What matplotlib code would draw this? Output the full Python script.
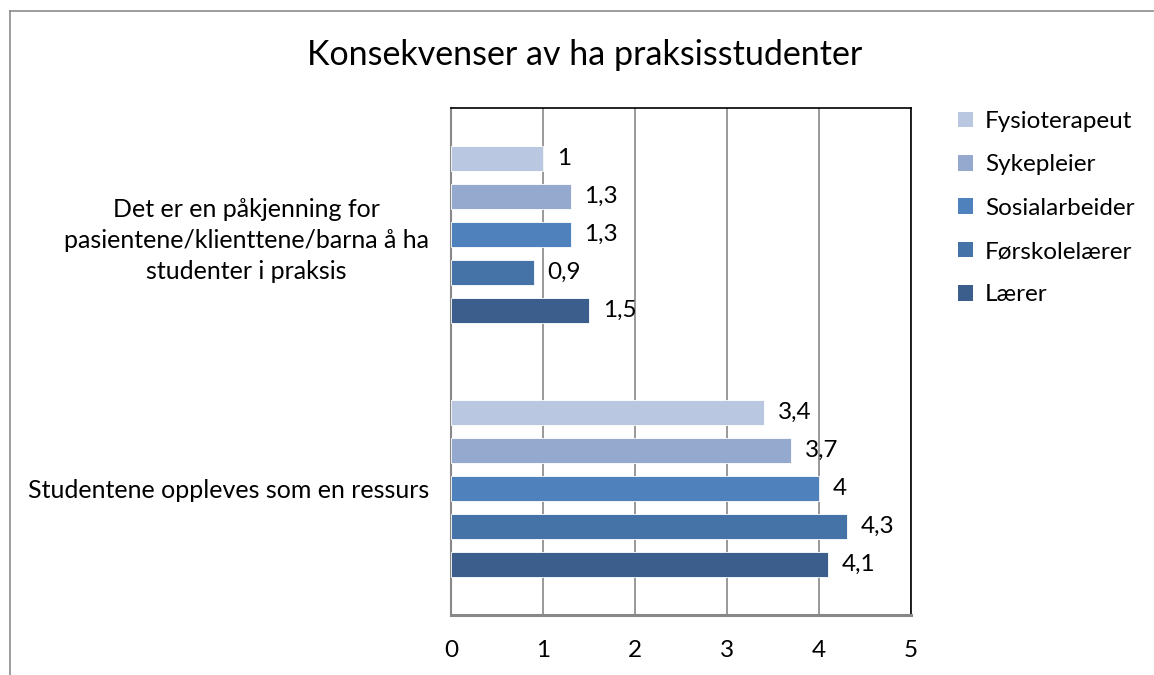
import numpy as np
import matplotlib.pyplot as plt
from matplotlib.lines import Line2D
from matplotlib.patches import Patch

plt.rcParams['font.family'] = ['Lato', 'DejaVu Sans']

categories = ["Studentene oppleves som en ressurs",
              "Det er en påkjenning for\npasientene/klienttene/barna å ha\nstudenter i praksis"]
series_names = ["Fysioterapeut", "Sykepleier", "Sosialarbeider", "Førskolelærer", "Lærer"]
# values per series, ordered as categories (bottom, top)
fysioterapeut = [3.4, 1.0]
sykepleier = [3.7, 1.3]
sosialarbeider = [4.0, 1.3]
forskolelaerer = [4.3, 0.9]
laerer = [4.1, 1.5]
series_values = [fysioterapeut, sykepleier, sosialarbeider, forskolelaerer, laerer]
colors = ["#B9C7E0", "#95A9CF", "#4F81BD", "#4573A8", "#3B5E8C"]
x_ticks = [0, 1, 2, 3, 4, 5]

def fmt(v):
    s = ("%g" % v)
    return s.replace(".", ",")

fig = plt.figure(figsize=(11.54, 6.75), dpi=100)
ax = fig.add_axes([451/1154, 1 - 615/675, 460/1154, 507/675])

y = np.arange(len(categories))
pitch = 0.15
height = 0.1
for i, (name, vals, col) in enumerate(zip(series_names, series_values, colors)):
    pos = y + (2 - i) * pitch
    bars = ax.barh(pos, vals, height=height, color=col, edgecolor="white", linewidth=0.6, zorder=3)
    for b, v in zip(bars, vals):
        ax.annotate(fmt(v), (v, b.get_y() + b.get_height() / 2), xytext=(10, 0),
                    textcoords="offset points", va="center", ha="left", fontsize=17.5)

ax.set_xlim(0, 5)
ax.set_ylim(-0.5, 1.5)
ax.set_xticks(x_ticks)
ax.set_xticklabels([str(t) for t in x_ticks], fontsize=17.5)
ax.set_yticks(y)
ax.set_yticklabels(categories, fontsize=18, multialignment="center")
for lab in ax.get_yticklabels():
    lab.set_linespacing(1.42)
ax.tick_params(axis="both", length=0)
ax.tick_params(axis="x", pad=18)
ax.tick_params(axis="y", pad=16)
ax.xaxis.grid(True, color="#888888", linewidth=1.2, zorder=0)
ax.set_axisbelow(True)

ax.spines["top"].set_color("black")
ax.spines["right"].set_color("black")
ax.spines["left"].set_color("#888888")
ax.spines["bottom"].set_color("#888888")
ax.spines["bottom"].set_linewidth(2.2)
ax.spines["left"].set_linewidth(1.5)
ax.spines["top"].set_linewidth(1.2)
ax.spines["right"].set_linewidth(1.2)

fig.text(585/1154, 1 - 55/675, "Konsekvenser av ha praksisstudenter", ha="center", va="center", fontsize=24.5)

handles = [Patch(facecolor=c, edgecolor="none") for c in colors]
fig.legend(handles, series_names, loc="upper left", bbox_to_anchor=(958/1154, 1 - 111/675),
           frameon=False, fontsize=17.5, handlelength=0.6, handleheight=0.6,
           handletextpad=0.5, labelspacing=0.92, borderaxespad=0, borderpad=0)

# outer chart border
fig.add_artist(Line2D([9.5/1154, 1.0], [1 - 10.5/675, 1 - 10.5/675], color="#8c8c8c", linewidth=1.2))
fig.add_artist(Line2D([9.5/1154, 9.5/1154], [0, 1 - 10.5/675], color="#8c8c8c", linewidth=1.2))

fig.savefig("out.png", dpi=100)
